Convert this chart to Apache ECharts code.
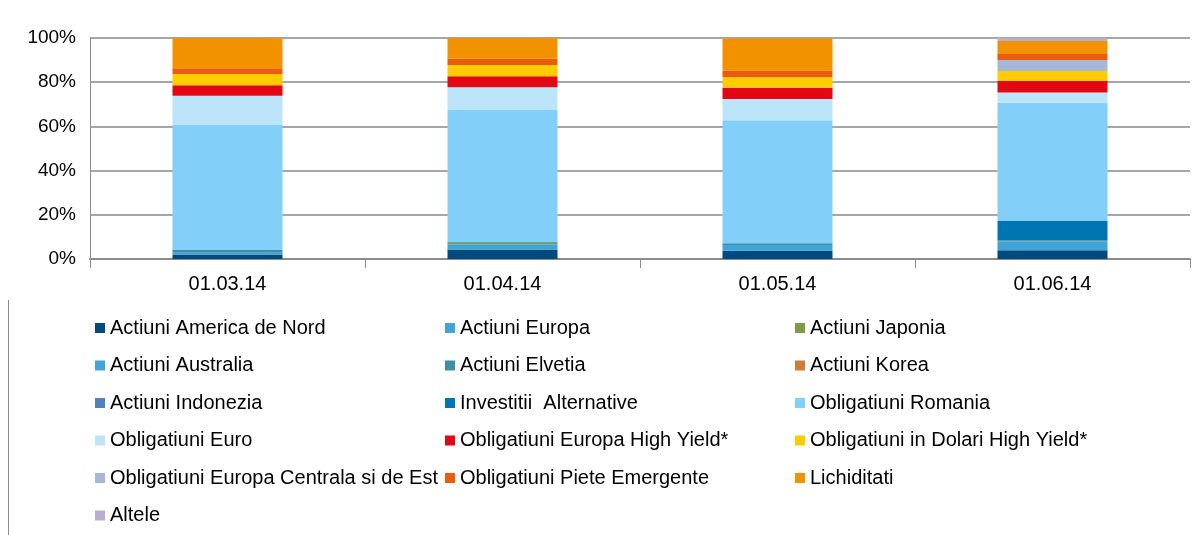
<!DOCTYPE html>
<html>
<head>
<meta charset="utf-8">
<script src="https://cdn.jsdelivr.net/npm/echarts@6/dist/echarts.min.js"></script>
<style>
html,body{margin:0;padding:0;background:#fff;}
#chart{width:1199px;height:535px;}
</style>
</head>
<body>
<div id="chart"></div>
<script>
var categories = ['01.03.14', '01.04.14', '01.05.14', '01.06.14'];
var yTicks = ['0%', '20%', '40%', '60%', '80%', '100%'];

var seriesNames = [
  'Actiuni America de Nord', 'Actiuni Europa', 'Actiuni Japonia',
  'Actiuni Australia', 'Actiuni Elvetia', 'Actiuni Korea',
  'Actiuni Indonezia', 'Investitii  Alternative', 'Obligatiuni Romania',
  'Obligatiuni Euro', 'Obligatiuni Europa High Yield*', 'Obligatiuni in Dolari High Yield*',
  'Obligatiuni Europa Centrala si de Est', 'Obligatiuni Piete Emergente', 'Lichiditati',
  'Altele'
];

var actiuniAmericaDeNord = [2.0, 4.3, 3.7, 4.0];
var actiuniEuropa = [0.8, 2.4, 2.6, 3.9];
var actiuniJaponia = [0, 0.7, 0, 0];
var actiuniAustralia = [0, 0, 0, 0];
var actiuniElvetia = [1.3, 0.3, 0.8, 0.6];
var actiuniKorea = [0, 0, 0, 0];
var actiuniIndonezia = [0, 0, 0, 0];
var investitiiAlternative = [0, 0, 0, 8.7];
var obligatiuniRomania = [56.5, 59.7, 55.7, 53.5];
var obligatiuniEuro = [13.3, 10.3, 9.6, 4.6];
var obligatiuniEuropaHighYield = [4.7, 5.0, 5.1, 5.2];
var obligatiuniDolariHighYield = [5.1, 5.1, 4.7, 4.6];
var obligatiuniEuropaCentrala = [0, 0, 0, 4.9];
var obligatiuniPieteEmergente = [2.6, 2.8, 3.0, 2.8];
var lichiditati = [13.7, 9.4, 14.6, 5.8];
var altele = [0, 0, 0, 1.4];

var seriesValues = [
  actiuniAmericaDeNord, actiuniEuropa, actiuniJaponia, actiuniAustralia,
  actiuniElvetia, actiuniKorea, actiuniIndonezia, investitiiAlternative,
  obligatiuniRomania, obligatiuniEuro, obligatiuniEuropaHighYield, obligatiuniDolariHighYield,
  obligatiuniEuropaCentrala, obligatiuniPieteEmergente, lichiditati, altele
];

var colors = [
  '#004a7f', '#41a4d8', '#7e9a45', '#41a4d8',
  '#3e8fa4', '#cd7a3b', '#4e81bd', '#0075b3',
  '#82cffa', '#bde5fa', '#e30613', '#ffcc00',
  '#a6b8d8', '#ea5b0c', '#f39200', '#b9aed0'
];

var col1 = [0, 3, 6, 9, 12, 15];
var col2 = [1, 4, 7, 10, 13];
var col3 = [2, 5, 8, 11, 14];

function legendCol(idx, left) {
  return {
    orient: 'vertical',
    left: left,
    top: 313,
    itemWidth: 10,
    itemHeight: 10,
    itemGap: 17.5,
    icon: 'rect',
    selectedMode: false,
    textStyle: { fontFamily: 'Liberation Sans, Arial', fontSize: 20, color: '#000', lineHeight: 20 },
    data: idx.map(function (i) { return seriesNames[i]; })
  };
}

var chart = echarts.init(document.getElementById('chart'), null, { renderer: 'canvas' });
chart.setOption({
  animation: false,
  color: colors,
  grid: { left: 90, right: 9, top: 38, bottom: 276, containLabel: false },
  legend: [legendCol(col1, 90), legendCol(col2, 440), legendCol(col3, 790)],
  xAxis: {
    type: 'category',
    data: categories,
    axisLine: { lineStyle: { color: '#8c8c8c', width: 2 } },
    axisTick: { show: true, interval: 0, length: 9, lineStyle: { color: '#8c8c8c', width: 1 } },
    axisLabel: { fontFamily: 'Liberation Sans, Arial', fontSize: 20, color: '#000', margin: 15 }
  },
  yAxis: {
    type: 'value',
    min: 0,
    max: 100,
    interval: 20,
    axisLine: { show: true, lineStyle: { color: '#8c8c8c', width: 1 } },
    axisTick: { show: false },
    splitLine: { lineStyle: { color: '#a6a6a6', width: 2 } },
    axisLabel: {
      fontFamily: 'Liberation Sans, Arial', fontSize: 19, color: '#000', margin: 14,
      formatter: function (v) { return yTicks[Math.round(v / 20)]; }
    }
  },
  graphic: [{
    type: 'line',
    shape: { x1: 8.5, y1: 300, x2: 8.5, y2: 535 },
    style: { stroke: '#8c8c8c', lineWidth: 1 }
  }],
  series: seriesNames.map(function (name, i) {
    return {
      name: name,
      type: 'bar',
      stack: 'total',
      barWidth: '40%',
      data: seriesValues[i],
      itemStyle: { color: colors[i] }
    };
  })
});
</script>
</body>
</html>
